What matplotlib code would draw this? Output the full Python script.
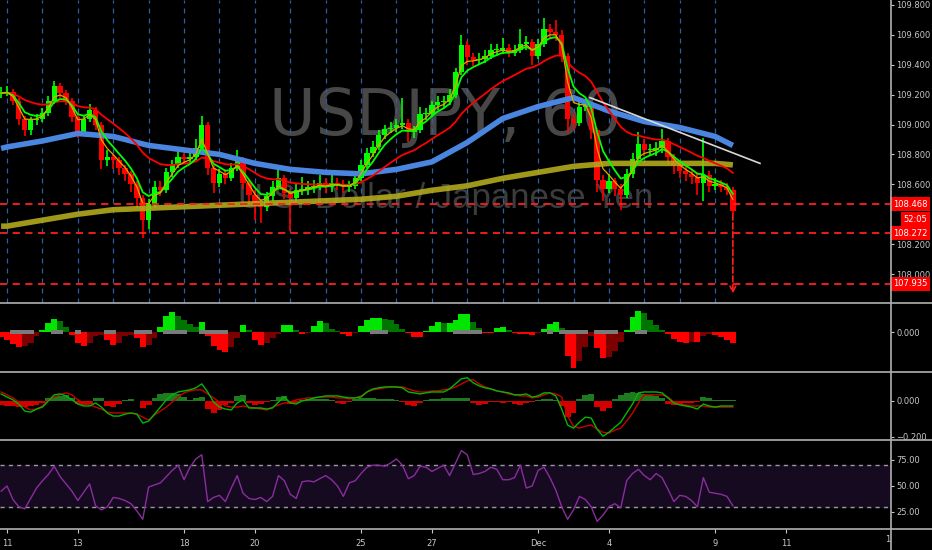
import numpy as np
import pandas as pd
import matplotlib
matplotlib.use("Agg")
import matplotlib.pyplot as plt
from matplotlib.lines import Line2D
from matplotlib import font_manager

# USDJPY 60 min chart, values read every 4 hours (slot -1 .. 123, 6 slots per trading day)
closes = [109.21, 109.22, 109.16, 109.04, 108.96, 109.03, 109.04, 109.08, 109.16, 109.26,
          109.21, 109.16, 109.05, 108.95, 109.04, 109.10, 109.00, 108.76, 108.78, 108.76,
          108.71, 108.67, 108.60, 108.51, 108.36, 108.47, 108.58, 108.56, 108.68, 108.73,
          108.78, 108.77, 108.78, 108.84, 109.00, 108.71, 108.61, 108.67, 108.64, 108.71,
          108.76, 108.61, 108.53, 108.47, 108.45, 108.52, 108.58, 108.64, 108.54, 108.51,
          108.56, 108.57, 108.58, 108.59, 108.61, 108.58, 108.61, 108.60, 108.58, 108.59,
          108.64, 108.73, 108.81, 108.85, 108.93, 108.97, 108.98, 109.00, 109.01, 108.95,
          108.96, 109.07, 109.07, 109.13, 109.15, 109.15, 109.20, 109.35, 109.53, 109.45,
          109.43, 109.44, 109.46, 109.50, 109.50, 109.51, 109.48, 109.50, 109.54, 109.55,
          109.46, 109.54, 109.64, 109.62, 109.60, 109.46, 109.04, 109.01, 109.12, 109.13,
          108.96, 108.63, 108.57, 108.62, 108.57, 108.53, 108.67, 108.77, 108.87, 108.83,
          108.83, 108.84, 108.89, 108.78, 108.72, 108.69, 108.67, 108.65, 108.61, 108.66,
          108.59, 108.60, 108.58, 108.56, 108.42]
highs = [109.25, 109.26, 109.24, 109.18, 109.06, 109.05, 109.07, 109.11, 109.19, 109.29,
         109.28, 109.23, 109.18, 109.07, 109.06, 109.14, 109.12, 109.02, 108.83, 108.80,
         108.78, 108.73, 108.69, 108.62, 108.53, 108.50, 108.62, 108.62, 108.71, 108.76,
         108.82, 108.81, 108.82, 108.90, 109.06, 109.02, 108.73, 108.70, 108.70, 108.74,
         108.83, 108.78, 108.63, 108.56, 108.50, 108.55, 108.62, 108.71, 108.66, 108.57,
         108.60, 108.65, 108.62, 108.63, 108.66, 108.64, 108.66, 108.64, 108.63, 108.62,
         108.68, 108.76, 108.84, 108.89, 108.96, 109.00, 109.02, 109.04, 109.18, 109.04,
         108.99, 109.12, 109.11, 109.16, 109.19, 109.19, 109.24, 109.38, 109.60, 109.56,
         109.48, 109.48, 109.50, 109.54, 109.54, 109.58, 109.54, 109.53, 109.64, 109.59,
         109.57, 109.57, 109.71, 109.67, 109.70, 109.63, 109.48, 109.08, 109.15, 109.17,
         109.15, 108.98, 108.66, 108.67, 108.64, 108.60, 108.70, 108.81, 108.95, 108.90,
         108.87, 108.88, 108.97, 108.91, 108.80, 108.75, 108.72, 108.70, 108.68, 108.91,
         108.69, 108.64, 108.63, 108.61, 108.58]
lows = [109.18, 109.19, 109.13, 109.00, 108.92, 108.93, 109.00, 109.02, 109.06, 109.14,
        109.18, 109.13, 109.02, 108.91, 108.93, 109.02, 108.96, 108.70, 108.72, 108.70,
        108.66, 108.62, 108.55, 108.44, 108.24, 108.30, 108.44, 108.52, 108.54, 108.65,
        108.71, 108.74, 108.74, 108.76, 108.82, 108.66, 108.54, 108.58, 108.60, 108.62,
        108.69, 108.57, 108.47, 108.36, 108.34, 108.42, 108.49, 108.56, 108.50, 108.29,
        108.47, 108.53, 108.53, 108.54, 108.56, 108.54, 108.55, 108.56, 108.54, 108.55,
        108.57, 108.62, 108.71, 108.78, 108.83, 108.90, 108.94, 108.95, 108.97, 108.88,
        108.91, 108.94, 109.03, 109.05, 109.10, 109.11, 109.13, 109.18, 109.33, 109.40,
        109.39, 109.40, 109.41, 109.44, 109.46, 109.47, 109.45, 109.46, 109.48, 109.50,
        109.40, 109.44, 109.52, 109.58, 109.56, 109.42, 108.94, 108.96, 108.99, 109.09,
        108.90, 108.55, 108.49, 108.54, 108.52, 108.43, 108.51, 108.64, 108.75, 108.79,
        108.79, 108.79, 108.81, 108.73, 108.67, 108.64, 108.62, 108.60, 108.53, 108.49,
        108.55, 108.56, 108.55, 108.53, 108.40]

# slow averages, read once a day
ma_slots = [-1, 0, 6, 12, 18, 24, 30, 36, 42, 48, 54, 60, 66, 72, 78, 84, 90, 96, 102, 108, 114, 120, 123]
blue_ma = [108.84, 108.85, 108.89, 108.94, 108.92, 108.86, 108.83, 108.80, 108.74, 108.70, 108.68, 108.67,
           108.70, 108.75, 108.88, 109.04, 109.12, 109.18, 109.09, 109.02, 108.98, 108.92, 108.86]
olive_ma = [108.32, 108.32, 108.36, 108.40, 108.43, 108.44, 108.45, 108.46, 108.47, 108.48, 108.49, 108.50,
            108.52, 108.56, 108.59, 108.64, 108.68, 108.72, 108.74, 108.74, 108.74, 108.74, 108.73]

momentum = [-0.05, -0.08, -0.12, -0.15, -0.14, -0.11, -0.04, 0.02, 0.09, 0.13,
            0.11, 0.05, -0.03, -0.11, -0.14, -0.11, -0.04, -0.03, -0.08, -0.13,
            -0.11, -0.04, -0.03, -0.06, -0.15, -0.13, -0.06, 0.05, 0.16, 0.20,
            0.16, 0.12, 0.08, 0.05, 0.10, -0.04, -0.14, -0.18, -0.20, -0.15,
            -0.06, 0.07, 0.02, -0.08, -0.13, -0.11, -0.06, -0.02, 0.07, 0.07,
            0.02, -0.02, -0.01, 0.06, 0.11, 0.09, 0.03, 0.01, -0.02, -0.04,
            -0.01, 0.06, 0.12, 0.14, 0.14, 0.13, 0.12, 0.08, 0.03, -0.01,
            -0.05, -0.05, 0.01, 0.06, 0.10, 0.09, 0.09, 0.12, 0.18, 0.18,
            0.10, 0.04, -0.01, -0.01, 0.04, 0.05, 0.02, -0.01, -0.02, -0.02,
            -0.03, -0.01, 0.03, 0.08, 0.10, 0.04, -0.24, -0.36, -0.29, -0.15,
            -0.04, -0.16, -0.26, -0.25, -0.19, -0.10, 0.02, 0.15, 0.21, 0.19,
            0.12, 0.07, 0.02, -0.02, -0.07, -0.10, -0.11, -0.10, -0.10, -0.04,
            -0.02, -0.03, -0.05, -0.08, -0.11]
squeeze_slots = [1, 2, 3, 4, 8, 9, 12, 17, 18, 22, 23, 24, 27, 28, 29, 30, 33, 34, 35, 36, 37,
                 62, 63, 64, 76, 77, 78, 79, 80, 92, 94, 95, 96, 97, 98, 100, 101, 102, 103, 107, 108]

macd_line = [0.039, 0.022, 0.006, -0.017, -0.056, -0.062, -0.045, -0.034, 0.000, 0.034,
             0.039, 0.028, 0.006, -0.017, -0.028, -0.028, -0.011, -0.034, -0.067, -0.084,
             -0.084, -0.073, -0.067, -0.073, -0.123, -0.112, -0.073, -0.034, 0.006, 0.034,
             0.050, 0.056, 0.062, 0.073, 0.095, 0.050, -0.006, -0.034, -0.045, -0.050,
             -0.011, 0.006, -0.039, -0.039, -0.039, -0.045, -0.039, -0.006, 0.022, -0.011,
             -0.017, 0.000, 0.006, 0.017, 0.022, 0.028, 0.028, 0.028, 0.022, 0.017,
             0.017, 0.022, 0.050, 0.067, 0.073, 0.078, 0.078, 0.078, 0.073, 0.050,
             0.045, 0.039, 0.045, 0.050, 0.050, 0.050, 0.067, 0.095, 0.123, 0.129,
             0.101, 0.084, 0.073, 0.067, 0.056, 0.050, 0.045, 0.034, 0.034, 0.039,
             0.022, 0.028, 0.045, 0.045, 0.028, -0.045, -0.134, -0.151, -0.118, -0.090,
             -0.095, -0.157, -0.196, -0.174, -0.146, -0.118, -0.067, -0.017, 0.045, 0.050,
             0.050, 0.050, 0.045, 0.017, -0.011, -0.022, -0.028, -0.034, -0.045, -0.017,
             -0.028, -0.034, -0.028, -0.028, -0.028]
signal_line = [0.050, 0.034, 0.017, -0.006, -0.034, -0.050, -0.045, -0.028, 0.006, 0.022,
               0.034, 0.045, 0.034, 0.006, -0.011, -0.022, -0.034, -0.045, -0.062, -0.067,
               -0.067, -0.067, -0.067, -0.073, -0.090, -0.106, -0.078, -0.056, -0.034, -0.006,
               0.022, 0.045, 0.056, 0.062, 0.062, 0.039, 0.017, -0.006, -0.028, -0.034,
               -0.034, -0.028, -0.034, -0.039, -0.045, -0.050, -0.034, -0.022, -0.011, -0.006,
               0.006, 0.011, 0.017, 0.017, 0.022, 0.022, 0.022, 0.017, 0.017, 0.011,
               0.017, 0.028, 0.050, 0.062, 0.067, 0.073, 0.078, 0.078, 0.078, 0.067,
               0.056, 0.050, 0.050, 0.056, 0.056, 0.062, 0.067, 0.078, 0.095, 0.112,
               0.118, 0.095, 0.078, 0.067, 0.056, 0.050, 0.039, 0.034, 0.028, 0.028,
               0.017, 0.022, 0.034, 0.045, 0.039, 0.022, -0.084, -0.140, -0.151, -0.140,
               -0.134, -0.157, -0.174, -0.179, -0.162, -0.151, -0.112, -0.067, -0.011, 0.034,
               0.034, 0.034, 0.034, 0.022, -0.006, -0.017, -0.022, -0.028, -0.028, -0.028,
               -0.034, -0.034, -0.034, -0.034, -0.034]
macd_hist = [-0.022, -0.028, -0.028, -0.034, -0.034, -0.028, -0.022, -0.011, 0.017, 0.022,
             0.028, 0.034, 0.017, -0.017, -0.022, -0.017, 0.017, 0.017, -0.028, -0.034,
             -0.017, 0.006, 0.011, 0.000, -0.039, -0.022, 0.017, 0.039, 0.045, 0.045,
             0.039, 0.022, 0.006, 0.017, 0.022, -0.045, -0.067, -0.050, -0.022, -0.011,
             0.028, 0.034, -0.011, -0.022, -0.017, -0.006, 0.006, 0.022, 0.028, -0.017,
             -0.011, 0.006, 0.011, 0.011, 0.011, 0.011, 0.006, -0.011, -0.017, -0.006,
             0.011, 0.017, 0.017, 0.017, 0.011, 0.011, 0.011, 0.006, -0.006, -0.022,
             -0.028, -0.011, 0.006, 0.011, 0.011, 0.017, 0.017, 0.017, 0.017, 0.017,
             -0.011, -0.022, -0.017, -0.006, -0.006, -0.011, -0.006, -0.017, -0.022, -0.011,
             -0.006, 0.006, 0.011, 0.011, 0.006, -0.028, -0.090, -0.067, 0.011, 0.034,
             0.039, -0.034, -0.056, -0.039, 0.011, 0.034, 0.045, 0.050, 0.045, 0.039,
             0.034, 0.028, 0.017, -0.017, -0.022, -0.017, -0.011, -0.011, -0.006, 0.022,
             0.017, 0.006, 0.006, 0.006, 0.006]

rsi = [45, 50, 37, 30, 28, 38, 48, 55, 61, 69,
       59, 52, 45, 36, 44, 52, 31, 27, 30, 39,
       38, 36, 33, 26, 18, 49, 51, 53, 59, 65,
       70, 56, 68, 76, 80, 35, 39, 41, 35, 48,
       60, 43, 38, 37, 39, 35, 40, 60, 55, 42,
       38, 54, 55, 54, 57, 60, 56, 50, 40, 53,
       55, 62, 68, 70, 70, 69, 72, 76, 70, 57,
       60, 69, 68, 64, 67, 70, 60, 72, 84, 80,
       61, 62, 64, 68, 66, 56, 56, 58, 70, 48,
       50, 65, 68, 58, 46, 30, 18, 27, 40, 37,
       30, 16, 22, 30, 33, 29, 55, 62, 66, 60,
       56, 62, 58, 47, 35, 41, 40, 36, 30, 58,
       44, 43, 42, 40, 31]

day_labels = ["11", "13", "18", "20", "25", "27", "Dec", "4", "9", "11"]
label_days = [0, 2, 5, 7, 10, 12, 15, 17, 20, 22]
levels = [108.468, 108.272, 107.935]
price_ticks = [108.0, 108.2, 108.6, 108.8, 109.0, 109.2, 109.4, 109.6, 109.8]
trend_slots = [98.8, 127.6]
trend_prices = [109.18, 108.74]
arrow_from, arrow_to = 108.42, 107.85
countdown = "52:05"
countdown_at = 108.365

W, H = 932, 550
BG = "#000000"
TXT = "#c8c8c8"
SEP = "#b0b0b0"
RED = "#ff1e1e"
FS = 6.0

plt.rcParams["font.family"] = ["DejaVu Sans"]
fig = plt.figure(figsize=(W / 100, H / 100), dpi=100, facecolor=BG)


def panel(top, bottom):
    ax = fig.add_axes([0, 1 - bottom / H, 891 / W, (bottom - top) / H])
    ax.set_facecolor(BG)
    for s in ax.spines.values():
        s.set_visible(False)
    ax.yaxis.tick_right()
    ax.tick_params(axis="y", colors=TXT, labelsize=FS, length=2.5, pad=1.5, width=0.8)
    ax.tick_params(axis="x", bottom=False, labelbottom=False)
    ax.set_xlim(-1.19, 149.8)
    return ax


ax_p = panel(0, 303)
ax_m = panel(303, 372)
ax_d = panel(372, 440)
ax_r = panel(440, 529)

x = np.arange(len(closes)) - 1
c = np.array(closes)
o = np.concatenate([[closes[0]], closes[:-1]])
up = c >= o
cols = np.where(up, "#00ff00", "#ff0000")

# price panel
ax_p.set_ylim(107.806, 109.833)
ax_p.set_yticks(price_ticks)
ax_p.set_yticklabels([f"{t:.3f}" for t in price_ticks])

names = {f.name for f in font_manager.fontManager.ttflist}
wm_font = "Liberation Sans Narrow" if "Liberation Sans Narrow" in names else "DejaVu Sans"
wm_size = 55 if wm_font == "Liberation Sans Narrow" else 46
ax_p.text(0.5, 0.614, "USDJPY, 60", transform=ax_p.transAxes, ha="center", va="center",
          fontsize=wm_size, family=wm_font, color="#474747", zorder=0)
ax_p.text(0.5, 0.345, "U.S. Dollar / Japanese Yen", transform=ax_p.transAxes, ha="center",
          va="center", fontsize=25, family="Liberation Sans", color="#3c3c3c", zorder=0)

for d in range(0, 21):
    ax_p.axvline(6 * d, color="#2f5f9e", lw=0.9, ls=(0, (4, 4)), zorder=1)

ax_p.vlines(x, lows, highs, colors=cols, lw=1.2, zorder=2)
ax_p.bar(x, np.maximum(np.abs(c - o), 0.006), bottom=np.minimum(c, o), width=0.9,
         color=cols, zorder=2)

ax_p.plot(ma_slots, olive_ma, color="#b2aa1c", lw=4, alpha=0.9, zorder=3, solid_capstyle="butt")
ax_p.plot(ma_slots, blue_ma, color="#4a86e0", lw=4, zorder=3, solid_capstyle="butt")
s = pd.Series(closes)
ax_p.plot(x, s.ewm(span=18, adjust=False).mean(), color="#ff0000", lw=1.3, zorder=4)
ax_p.plot(x, s.ewm(span=5, adjust=False).mean(), color="#00ff00", lw=1.3, zorder=4)
ax_p.plot(x, s.ewm(span=3, adjust=False).mean(), color="#e0a800", lw=0.9, zorder=4)

ax_p.plot(trend_slots, trend_prices, color="#d8d8d8", lw=1.2, zorder=5)
for lvl in levels:
    ax_p.axhline(lvl, color=RED, lw=1.3, ls=(0, (4, 3)), zorder=5)
ax_p.annotate("", xy=(x[-1], arrow_to), xytext=(x[-1], arrow_from),
              arrowprops=dict(arrowstyle="->", color=RED, lw=1.2, ls="--", mutation_scale=10),
              zorder=6)

box = dict(boxstyle="square,pad=0.3", fc="#ff0000", ec="none")
ytr = ax_p.get_yaxis_transform()
for lvl in levels:
    ax_p.text(1.002, lvl, f"{lvl:.3f}", transform=ytr, ha="left", va="center", fontsize=FS,
              color="white", bbox=box, clip_on=False, zorder=10)
ax_p.text(1.014, countdown_at, countdown, transform=ytr, ha="left", va="center", fontsize=FS,
          color="white", bbox=box, clip_on=False, zorder=11)

# squeeze momentum panel
mom = np.array(momentum)
prev = np.concatenate([[momentum[0]], momentum[:-1]])
mcols = np.where(mom >= 0, np.where(mom >= prev, "#00e600", "#007400"),
                 np.where(mom <= prev, "#ff0000", "#7c0000"))
ax_m.bar(x, mom, width=1.0, color=mcols, zorder=2)
ax_m.bar(squeeze_slots, 0.04, bottom=-0.02, width=1.0, color="#7a7a7a", zorder=3)
ax_m.set_ylim(-0.40, 0.29)
ax_m.set_yticks([0])
ax_m.set_yticklabels(["0.000"])

# macd panel
hist = np.array(macd_hist)
ax_d.bar(x, hist, width=1.0, color=np.where(hist >= 0, "#1e7a1e", "#d40000"), zorder=2)
ax_d.plot(x, signal_line, color="#c80000", lw=1, zorder=3)
ax_d.plot(x, macd_line, color="#00b800", lw=1, zorder=3)
ax_d.set_ylim(-0.217, 0.161)
ax_d.set_yticks([0, -0.2])
ax_d.set_yticklabels(["0.000", "\u22120.200"])

# rsi panel
ax_r.axhspan(30, 70, color="#150a20", zorder=0)
for lvl in (30, 70):
    ax_r.axhline(lvl, color="#9a9a9a", lw=1, ls=(0, (3, 3)), zorder=1)
ax_r.plot(x, rsi, color="#8a2d9e", lw=1, zorder=2)
ax_r.set_ylim(8.65, 94.2)
ax_r.set_yticks([25, 50, 75])
ax_r.set_yticklabels(["25.00", "50.00", "75.00"])
ax_r.set_xticks([6 * d for d in label_days])
ax_r.set_xticklabels(day_labels)
ax_r.tick_params(axis="x", bottom=True, labelbottom=True, colors=TXT, labelsize=FS,
                 length=3, pad=4, width=0.8)

# panel separators and price scale border
for yy in (303, 372, 440, 529):
    fig.add_artist(Line2D([0, 1], [1 - yy / H] * 2, transform=fig.transFigure, color=SEP, lw=1.2))
fig.add_artist(Line2D([891 / W] * 2, [0, 1], transform=fig.transFigure, color=SEP, lw=1.2))
fig.text(890 / W, 1 - 540 / H, "1", ha="right", va="center", fontsize=FS, color=TXT)

fig.savefig("out.png", dpi=100, facecolor=BG)
